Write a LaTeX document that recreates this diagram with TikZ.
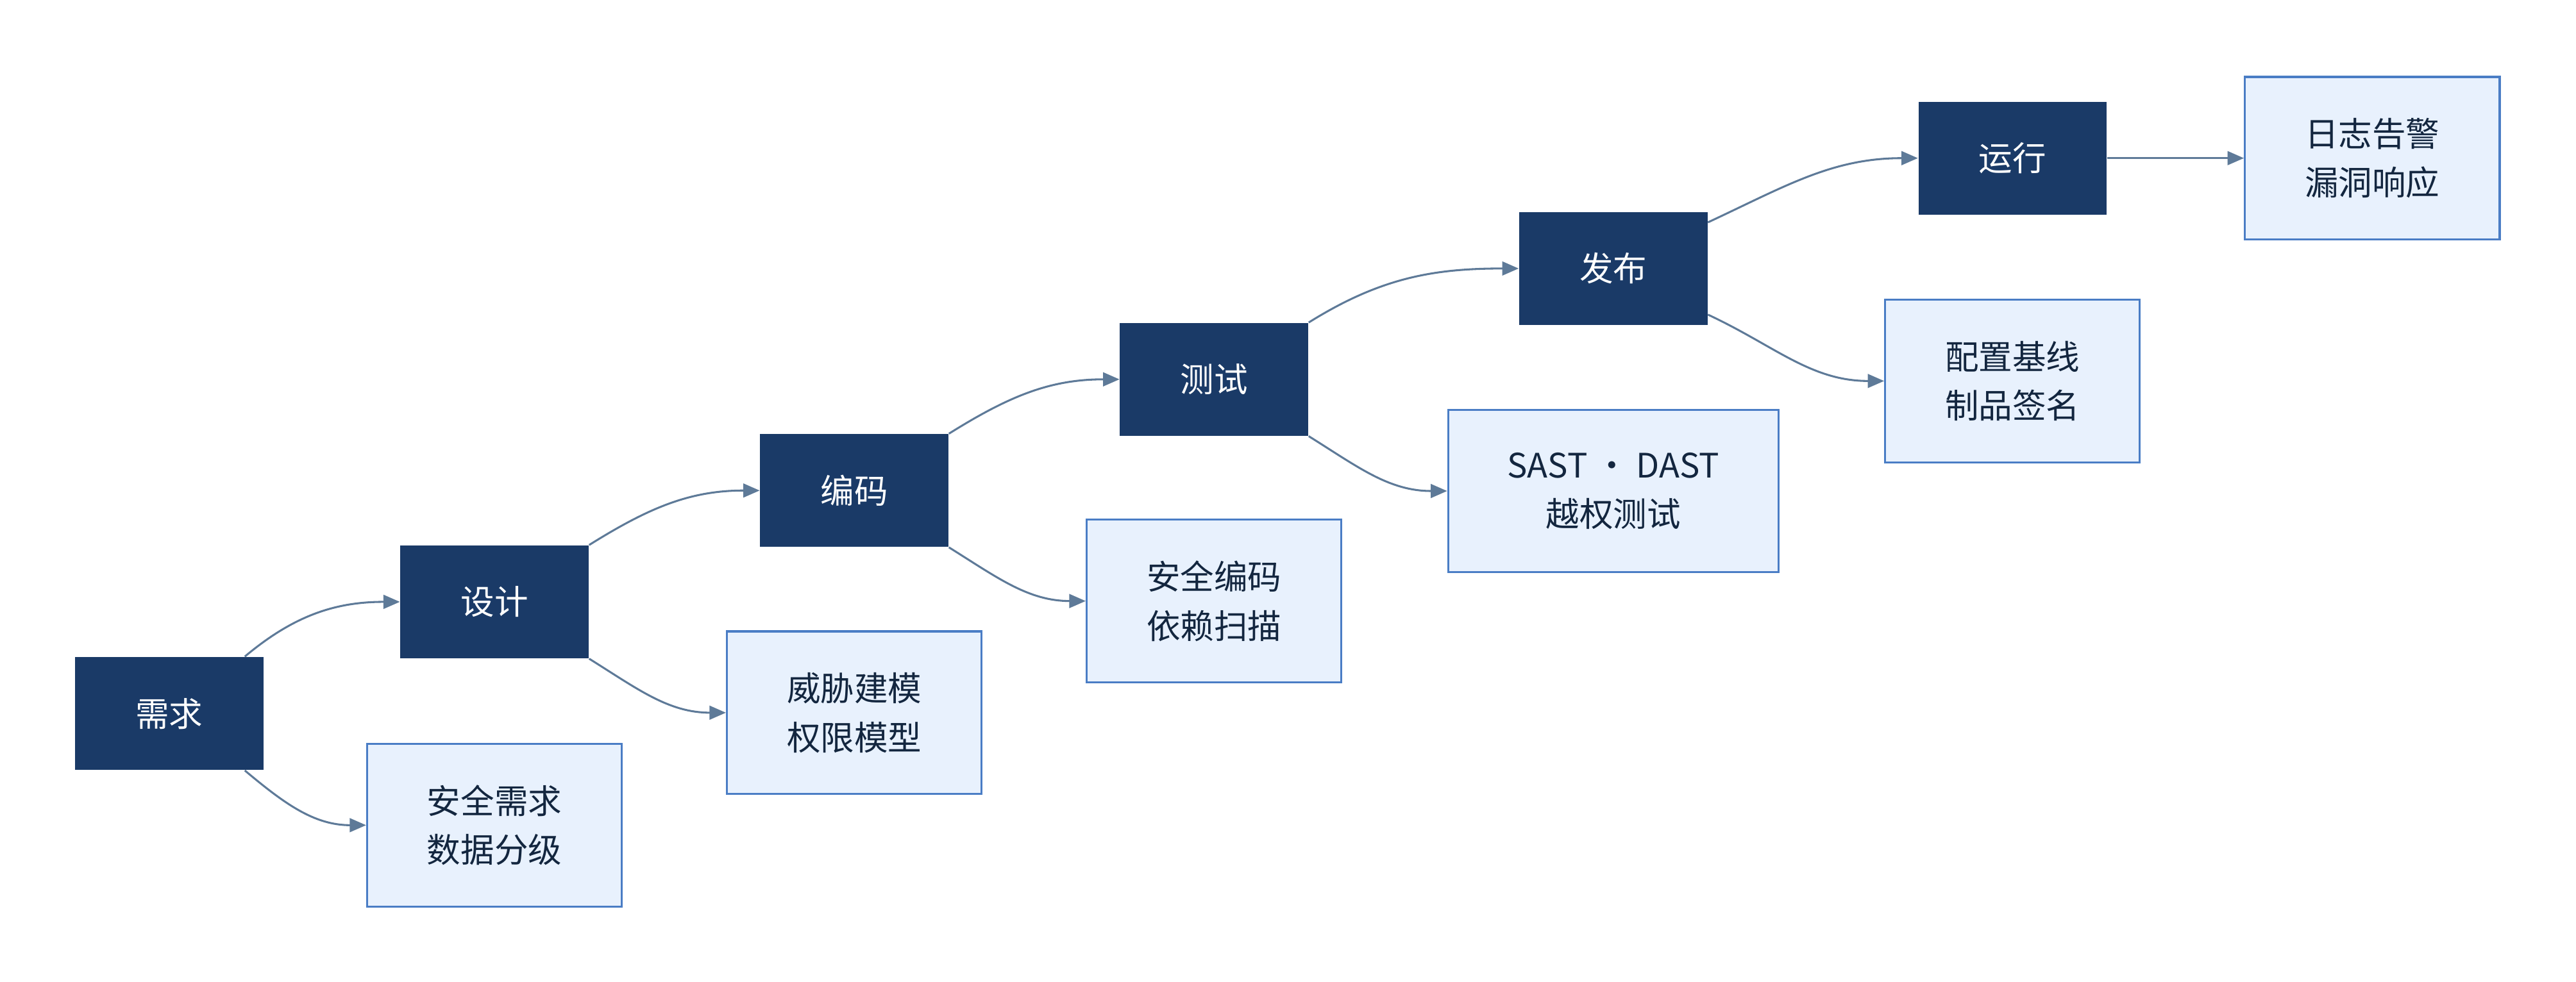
\documentclass[tikz,border=0pt]{standalone}
\usepackage{fontspec}
\setmainfont{Noto Sans CJK SC}
\usepackage{xcolor}
\usetikzlibrary{positioning, calc, arrows.meta}

\begin{document}
\begin{tikzpicture}[
  x=0.25mm, y=0.25mm,
  font=\fontsize{14.6}{21.3}\selectfont,
  >={Triangle[length=2.5mm,width=2.1mm]},
  stage/.style={fill=cNavy, text=white, inner sep=0pt,
                minimum width=28.65mm, minimum height=17.2mm},
  task/.style={fill=cPale, draw=cLine, line width=0.9pt, text=cInk,
               align=center, inner xsep=9mm, inner ysep=0pt,
               minimum width=38.75mm, minimum height=24.75mm},
  flow/.style={->, draw=cEdge, line width=0.85pt},
]

\definecolor{cNavy}{HTML}{1A3A67}
\definecolor{cPale}{HTML}{E8F1FD}
\definecolor{cLine}{HTML}{4A7DC5}
\definecolor{cInk} {HTML}{13263F}
\definecolor{cEdge}{HTML}{5E7A98}

\useasboundingbox (0,0) rectangle (1568,-598);

% =====================================================================
% Lifecycle stages (dark, climbing to the right)
% =====================================================================
\foreach \name/\x/\y/\txt in {need/103/434.5/需求,
                              design/301/366.5/设计,
                              code/520/298.7/编码,
                              test/739/231/测试,
                              release/982/163.5/发布,
                              run/1225/96.3/运行}{
  \node[stage] (\name) at (\x,-\y) {\txt};
}

% =====================================================================
% Security tasks (pale boxes)
% =====================================================================
\foreach \name/\x/\y/\txt in {req/301/502.5/{安全需求\\数据分级},
                              threat/520/434/{威胁建模\\权限模型},
                              seccode/739/366/{安全编码\\依赖扫描},
                              scan/982/299/{SAST ・ DAST\\越权测试},
                              config/1225/232/{配置基线\\制品签名},
                              logs/1444/96.3/{日志告警\\漏洞响应}}{
  \node[task] (\name) at (\x,-\y) {\txt};
}

% =====================================================================
% Connectors
% =====================================================================
\draw[flow] (need.37)  to[out=40,  in=180] (design.west);
\draw[flow] (need.-37) to[out=-40, in=180] (req.west);

\foreach \a/\b/\c in {design/code/threat, code/test/seccode, test/release/scan}{
  \draw[flow] (\a.31)  to[out=32,  in=180] (\b.west);
  \draw[flow] (\a.-31) to[out=-32, in=180] (\c.west);
}

\draw[flow] (release.26)  to[out=25,  in=180] (run.west);
\draw[flow] (release.-26) to[out=-25, in=180] (config.west);

% run -> logs is straight
\draw[flow] (run.east) -- (logs.west);

\end{tikzpicture}
\end{document}
